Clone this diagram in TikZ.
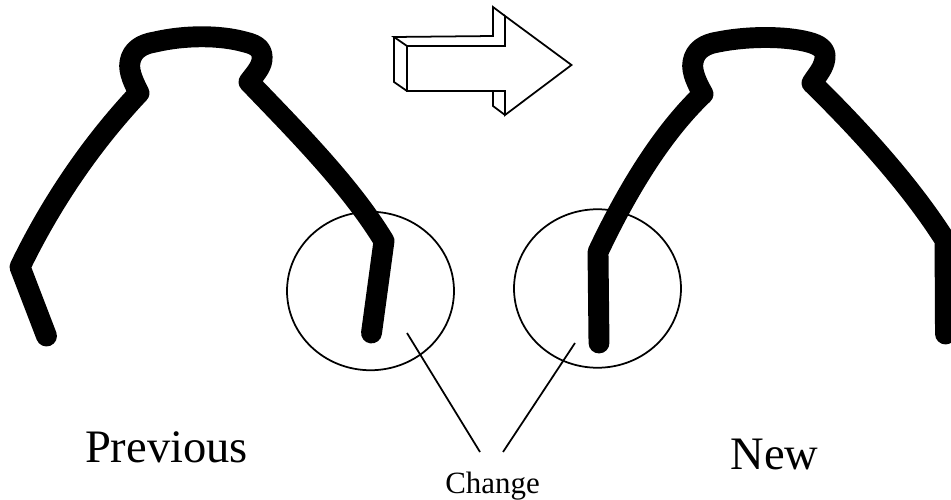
\documentclass[tikz,border=0pt]{standalone}
\usepackage{fontspec}
\setmainfont{Liberation Serif}
\usepackage{tikz}
\usetikzlibrary{positioning}
\usetikzlibrary{calc}
\usetikzlibrary{shapes.geometric}

\tikzset{
    claw/.style={line width=11.9pt, line cap=round, line join=round},
    thinline/.style={line width=1pt},
    ring/.style={draw, thinline, ellipse, minimum width=3.34cm, minimum height=3.17cm, inner sep=0pt},
    biglabel/.style={font=\fontsize{26.5}{28}\selectfont, inner sep=0pt, anchor=base},
    smalllabel/.style={font=\fontsize{17.6}{19}\selectfont, inner sep=0pt, anchor=base}
}

\begin{document}
\begin{tikzpicture}[x=0.02cm, y=-0.02cm]
    \useasboundingbox (0, 0) rectangle (951, 500);
    % previous shape
    \draw[claw] (46.5, 336) -- (20, 267)
        .. controls (50, 205) and (90, 145) .. (139, 93)
        .. controls (135, 85) and (128, 72) .. (130, 62)
        .. controls (132, 50) and (142, 44) .. (155, 42)
        .. controls (185, 35) and (220, 35) .. (245, 42)
        .. controls (258, 45) and (263, 50) .. (262, 60)
        .. controls (261, 68) and (254, 75) .. (249, 82)
        .. controls (295, 130) and (350, 185) .. (384, 241)
        -- (371.5, 333);
    % new shape
    \draw[claw] (599, 343) -- (598, 252)
        .. controls (625, 195) and (660, 135) .. (703, 94)
        .. controls (698, 85) and (691, 72) .. (693, 62)
        .. controls (695, 50) and (705, 44) .. (718, 42)
        .. controls (748, 36) and (785, 36) .. (808, 42)
        .. controls (820, 45) and (826, 50) .. (825, 58)
        .. controls (824, 68) and (817, 75) .. (812, 83)
        .. controls (860, 130) and (910, 185) .. (945, 240)
        -- (945.5, 334);
    % arrow
    \draw[thinline, line join=miter] (407, 46) -- (505, 46) -- (505, 16) -- (571.5, 65)
        -- (505, 115) -- (505, 91) -- (407, 91) -- cycle;
    \draw[thinline] (407, 46) -- (394, 37) -- (493, 36) -- (493, 7) -- (505, 16);
    \draw[thinline] (394, 37) -- (394, 82) -- (407, 91);
    \draw[thinline] (493, 91) -- (493, 106) -- (505, 115);
    % circles
    \node[ring] (oldcirc) at (370.5, 291) {};
    \node[ring] (newcirc) at (597.5, 288.5) {};
    % labels
    \node[biglabel] (prev) at (166.5, 462) {Previous};
    \node[biglabel] (new) at (774.5, 469) {New};
    \node[smalllabel] (change) at (492.5, 493) {Change};
    % pointers
    \coordinate (oldend) at (480, 452);
    \coordinate (newend) at (503, 452);
    \coordinate (oldstart) at (407, 333);
    \coordinate (newstart) at (575, 343);
    \draw[thinline] (oldstart) -- (oldend);
    \draw[thinline] (newstart) -- (newend);
\end{tikzpicture}
\end{document}
